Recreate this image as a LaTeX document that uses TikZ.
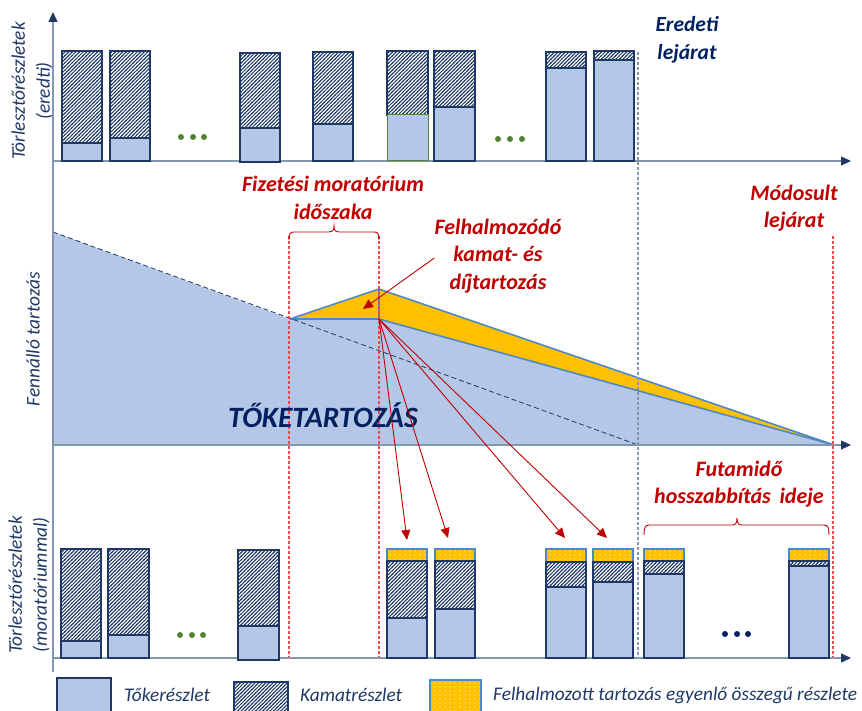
\documentclass[tikz,border=0pt]{standalone}
\usepackage{fontspec}
\setmainfont{Carlito}
\usetikzlibrary{arrows.meta,patterns}
\definecolor{navy}{HTML}{1F3864}
\definecolor{darknavy}{HTML}{002060}
\definecolor{axisc}{HTML}{8497B0}
\definecolor{bluef}{HTML}{B4C7E7}
\definecolor{orangef}{HTML}{FFC000}
\definecolor{redt}{HTML}{C00000}
\definecolor{reddash}{HTML}{F04848}
\definecolor{lineblue}{HTML}{4F88C6}
\definecolor{dotgreen}{HTML}{548235}
\pgfdeclarepatternformonly{myhatch}{\pgfqpoint{-1pt}{-1pt}}{\pgfqpoint{4.5pt}{4.5pt}}{\pgfqpoint{3.6pt}{3.6pt}}{%
  \pgfsetlinewidth{1pt}\pgfpathmoveto{\pgfqpoint{-0.5pt}{-0.5pt}}\pgfpathlineto{\pgfqpoint{4.1pt}{4.1pt}}\pgfusepath{stroke}}
\pgfdeclarepatternformonly{mydots}{\pgfqpoint{-1pt}{-1pt}}{\pgfqpoint{1pt}{1pt}}{\pgfqpoint{5pt}{4pt}}{%
  \pgfpathcircle{\pgfpointorigin}{0.6pt}\pgfusepath{fill}}
\newcommand{\tbar}[5]{%
  \draw[hatchpart] (#1,#3) rectangle (#2,#4);
  \draw[bluepart] (#1,#4) rectangle (#2,#5);}
\newcommand{\obar}[6]{%
  \draw[orangepart] (#1,#3) rectangle (#2,#4);
  \draw[hatchpart] (#1,#4) rectangle (#2,#5);
  \draw[bluepart] (#1,#5) rectangle (#2,#6);}
\tikzset{
  hatchpart/.style={draw=navy, line width=1.4pt, pattern=myhatch, pattern color=navy},
  bluepart/.style={draw=navy, line width=1.4pt, fill=bluef},
  orangepart/.style={draw=lineblue, line width=1.2pt, preaction={fill=orangef}, pattern=mydots, pattern color=white},
  axisline/.style={draw=axisc, line width=1.2pt, -{Triangle[length=10pt,width=9pt,color=navy]}},
  redlab/.style={text=redt, font=\fontsize{22}{27.5}\selectfont\bfseries\itshape, align=center, inner sep=0pt},
  navylab/.style={text=darknavy, font=\fontsize{21.5}{27.5}\selectfont\bfseries\itshape, align=center, inner sep=0pt},
  axlab/.style={text=navy, font=\fontsize{19.3}{25}\selectfont\itshape, align=center, inner sep=0pt},
  leglab/.style={text=navy, font=\fontsize{19.3}{22}\selectfont\itshape, anchor=west, inner sep=0pt},
  reddashed/.style={draw=reddash, line width=1.3pt, dash pattern=on 3pt off 2pt},
  bluedashed/.style={draw=axisc, line width=1.2pt, dash pattern=on 3pt off 2pt},
  redbrace/.style={draw=redt, line width=0.9pt},
  redarrow/.style={draw=redt, line width=0.9pt, -{Triangle[length=10pt,width=9pt]}},
  polyline/.style={draw=lineblue, line width=1.6pt, line join=round},
  gdot/.style={fill=dotgreen},
  ndot/.style={fill=darknavy}
}
\begin{document}
\begin{tikzpicture}[x=1pt,y=-1pt]
\useasboundingbox (0,0) rectangle (862,711);
% middle area
\fill[bluef] (53,232) -- (290,319) -- (379,319) -- (834,445) -- (53,445) -- cycle;
\fill[orangef] (290,319) -- (379,289) -- (834,445) -- (379,319) -- cycle;
\draw[polyline] (290,319) -- (379,289) -- (834,445);
\draw[polyline] (290,319) -- (379,319) -- (834,445);
\draw[polyline] (379,289) -- (379,319);
\draw[navy, line width=0.8pt, dash pattern=on 5pt off 3pt] (53,232) -- (638,445);
% dashed verticals
\draw[reddashed] (289,236) -- (289,658);
\draw[reddashed] (379,236) -- (379,658);
\draw[reddashed] (833,236) -- (833,658);
\draw[bluedashed] (638,52) -- (638,658);
% axes
\draw[axisline] (53,672) -- (53,12);
\draw[axisline] (53,161) -- (851,161);
\draw[axisline] (53,445) -- (851,445);
\draw[axisline] (53,658) -- (851,658);
% top bars
\tbar{62}{102}{51}{143}{161}
\tbar{110}{150}{51}{138}{161}
\tbar{240}{280}{53}{128}{162}
\tbar{313}{353}{52}{124}{161}
\draw[hatchpart] (387,51) rectangle (428,115);
\draw[bluepart, draw=dotgreen, line width=1pt] (387,115) rectangle (428,161);
\tbar{434}{475}{51}{107}{161}
\tbar{546}{586}{52}{68}{161}
\tbar{594}{634}{51}{60}{161}
\foreach \x in {181,193,204} \fill[gdot] (\x,137) circle (3);
\foreach \x in {498,510,522} \fill[gdot] (\x,139) circle (3);
% bottom bars
\tbar{61}{101}{549}{641}{658}
\tbar{108}{149}{549}{635}{658}
\tbar{238}{279}{550}{626}{660}
\obar{387}{427}{549}{561}{618}{658}
\obar{435}{475}{549}{561}{609}{658}
\obar{546}{586}{549}{562}{587}{658}
\obar{593}{633}{549}{562}{582}{658}
\obar{644}{684}{549}{561}{574}{658}
\obar{789}{829}{549}{561}{566}{658}
\foreach \x in {180,192,203} \fill[gdot] (\x,635) circle (3);
\foreach \x in {725,737,748} \fill[ndot] (\x,634) circle (3);
% braces
\draw[redbrace] (289,240) .. controls (289,234) and (290,232) .. (294,232) -- (329,232) .. controls (332,232) and (334,231) .. (334,226) .. controls (334,231) and (336,232) .. (339,232) -- (374,232) .. controls (378,232) and (379,234) .. (379,240);
\draw[redbrace] (644,535) .. controls (644,528) and (645,525) .. (649,525) -- (732,525) .. controls (735,525) and (737,524) .. (737,518) .. controls (737,524) and (739,525) .. (742,525) -- (824,525) .. controls (828,525) and (829,528) .. (829,535);
% labels
\node[redlab] (morat) at (333,198) {Fizetési moratórium\\időszaka};
\node[redlab] (felh) at (498,256) {Felhalmozódó\\kamat- és\\díjtartozás};
\node[redlab] (modos) at (794,208) {Módosult\\lejárat};
\node[navylab] (ered) at (687,40) {Eredeti\\lejárat};
\node[redlab] (futam) at (739,484) {Futamidő\\hosszabbítás\ \,ideje};
\node[text=darknavy, font=\fontsize{29.5}{34}\selectfont\bfseries\itshape, inner sep=0pt] (toke) at (323,415) {TŐKETARTOZÁS};
\node[axlab, rotate=90] (ax1) at (32,91) {Törlesztőrészletek\\(eredti)};
\node[axlab, rotate=90] (ax2) at (33,339) {Fennálló tartozás};
\node[axlab, rotate=90] (ax3) at (29,585) {Törlesztőrészletek\\(moratóriummal)};
% arrows
\coordinate (pb) at (379,319);
\coordinate (fa) at (363,309);
\coordinate (t1) at (407,540);
\coordinate (t2) at (448,538);
\coordinate (t3) at (565,538);
\coordinate (t4) at (607,538);
\draw[redarrow] (felh.west) ++(0,2) -- (fa);
\foreach \t in {t1,t2,t3,t4} \draw[redarrow] (pb) -- (\t);
% legend
\draw[bluepart] (57,678) rectangle (111,716);
\draw[hatchpart] (234,682) rectangle (288,716);
\draw[orangepart] (430,680) rectangle (481,716);
\node[leglab] (l1) at (124,695) {Tőkerészlet};
\node[leglab] (l2) at (300,695) {Kamatrészlet};
\node[leglab] (l3) at (493,695) {Felhalmozott tartozás egyenlő összegű részlete};
\end{tikzpicture}
\end{document}
